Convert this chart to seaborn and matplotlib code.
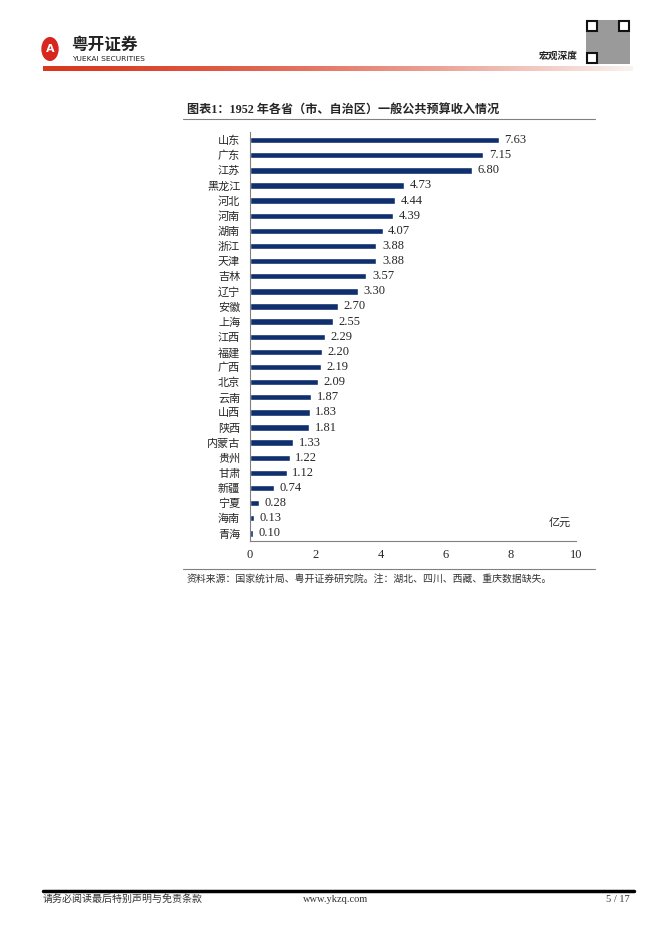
import numpy as np
import matplotlib.pyplot as plt
import seaborn as sns
from matplotlib.lines import Line2D
from matplotlib.patches import Rectangle, Circle

# 1952 一般公共预算收入（亿元）
provinces = ["山东", "广东", "江苏", "黑龙江", "河北", "河南", "湖南", "浙江", "天津",
             "吉林", "辽宁", "安徽", "上海", "江西", "福建", "广西", "北京", "云南",
             "山西", "陕西", "内蒙古", "贵州", "甘肃", "新疆", "宁夏", "海南", "青海"]
revenue = [7.63, 7.15, 6.80, 4.73, 4.44, 4.39, 4.07, 3.88, 3.88, 3.57, 3.30, 2.70,
           2.55, 2.29, 2.20, 2.19, 2.09, 1.87, 1.83, 1.81, 1.33, 1.22, 1.12, 0.74,
           0.28, 0.13, 0.10]
x_ticks = [0, 2, 4, 6, 8, 10]

title = "图表1：1952 年各省（市、自治区）一般公共预算收入情况"
source = "资料来源：国家统计局、粤开证券研究院。注：湖北、四川、西藏、重庆数据缺失。"

W, H = 662, 936
NAVY = "#0f2f6e"


def fx(x):
    return x / W


def fy(y):
    return 1 - y / H


sns.set_style("white")
plt.rcParams["font.family"] = ["Liberation Serif", "Noto Sans CJK SC"]

fig = plt.figure(figsize=(6.62, 9.36), dpi=100)

# ---- page header ----
fig.add_artist(Circle((fx(50), fy(49)), 8 / W, color="#d7261e",
                      transform=fig.transFigure))
fig.text(fx(50), fy(49.5), "A", color="white", fontsize=8, fontweight="bold",
         ha="center", va="center", family="DejaVu Sans")
fig.text(fx(71), fy(44.5), "粤开证券", fontsize=12, fontweight="bold", color="#222222",
         va="center", family=["Noto Sans CJK SC"])
fig.text(fx(72), fy(59), "YUEKAI SECURITIES", fontsize=5.4, color="#222222",
         va="center", family="DejaVu Sans")
fig.text(fx(578), fy(56), "宏观深度", fontsize=7, fontweight="bold", color="#222222",
         ha="right", va="center", family=["Noto Sans CJK SC"])

# red gradient rule
grad_ax = fig.add_axes([fx(43), fy(71), fx(590), 5 / H])
grad = np.linspace(0, 1, 256).reshape(1, -1)
red = np.array([0.85, 0.22, 0.12])
mix = grad[..., None] ** 1.4
rgb = red[None, None, :] * (1 - mix) + np.array([0.98, 0.95, 0.94]) * mix
grad_ax.imshow(rgb, aspect="auto")
grad_ax.axis("off")

# qr code placeholder
fig.add_artist(Rectangle((fx(586), fy(64)), 44 / W, 44 / H, facecolor="#9a9a9a",
                         edgecolor="none", transform=fig.transFigure))
for qx, qy in [(587, 31), (619, 31), (587, 63)]:
    fig.add_artist(Rectangle((fx(qx), fy(qy)), 10 / W, 10 / H, facecolor="white",
                             edgecolor="#111111", lw=1.5, transform=fig.transFigure))

# ---- chart title ----
fig.text(fx(187), fy(110), title, fontsize=8.7, fontweight="bold", va="center")
fig.add_artist(Line2D([fx(183), fx(595)], [fy(119), fy(119)], color="#808080", lw=0.8))

# ---- bar chart ----
ax = fig.add_axes([fx(250), fy(541), fx(326), (541 - 132.5) / H])
sns.barplot(x=revenue, y=provinces, orient="h", color=NAVY, width=0.42, ax=ax,
            saturation=1)
for i, v in enumerate(revenue):
    ax.text(v + 0.17, i, f"{v:.2f}", va="center", ha="left", fontsize=9)

ax.set_xlim(0, 10)
ax.set_ylim(26.5, -0.5)
ax.set_xticks(x_ticks)
ax.set_xticklabels([str(t) for t in x_ticks], fontsize=9)
ax.tick_params(axis="x", direction="in", length=4, width=0.8, color="#808080", pad=6)
ax.tick_params(axis="y", length=0, pad=7, labelsize=8)
for lab in ax.get_yticklabels():
    lab.set_family(["Noto Sans CJK SC"])
ax.set_xlabel("")
ax.set_ylabel("")
for side in ["top", "right"]:
    ax.spines[side].set_visible(False)
for side in ["left", "bottom"]:
    ax.spines[side].set_color("#808080")
    ax.spines[side].set_linewidth(0.8)
ax.text(9.5, 25.3, "亿元", fontsize=8, ha="center", va="center",
        family=["Noto Sans CJK SC"])

# ---- source ----
fig.add_artist(Line2D([fx(183), fx(595)], [fy(569), fy(569)], color="#808080", lw=0.8))
fig.text(fx(187), fy(579), source, fontsize=7.1, style="italic", color="#333333",
         va="center", family=["Noto Sans CJK SC"])

# ---- footer ----
fig.add_artist(Line2D([fx(43), fx(634)], [fy(890.5), fy(890.5)], color="black", lw=2.5))
fig.text(fx(43), fy(899), "请务必阅读最后特别声明与免责条款", fontsize=7.2, color="#333333",
         va="center", family=["Noto Sans CJK SC"])
fig.text(fx(336), fy(899), "www.ykzq.com", fontsize=7.5, color="#333333",
         ha="center", va="center")
fig.text(fx(630), fy(899), "5 / 17", fontsize=7.5, color="#333333",
         ha="right", va="center")

fig.savefig("out.png", dpi=100, facecolor="white")
